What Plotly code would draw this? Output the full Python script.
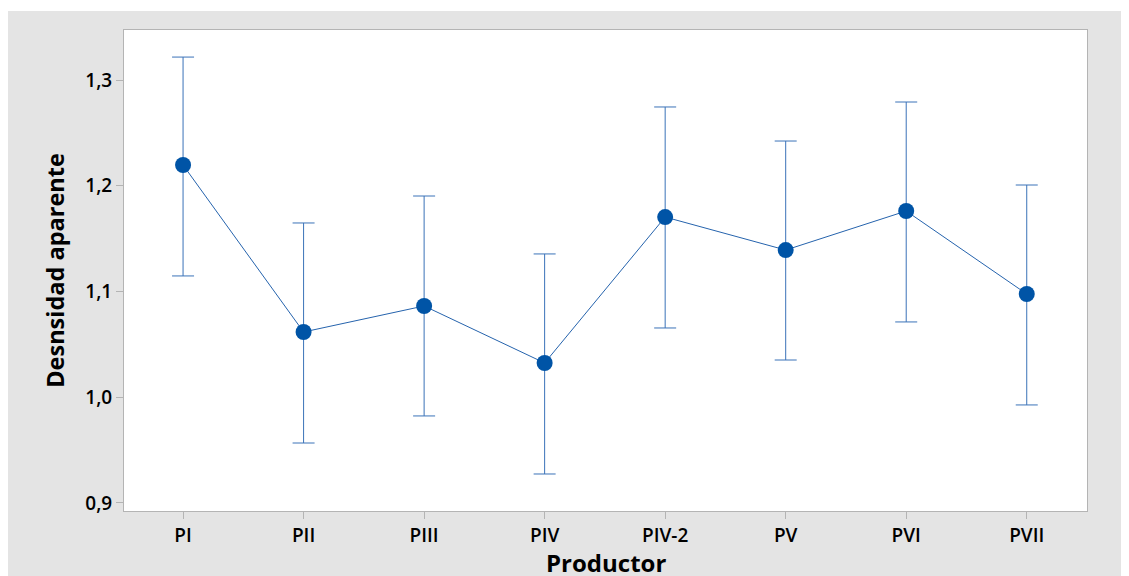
import plotly.graph_objects as go

categories = ["PI", "PII", "PIII", "PIV", "PIV-2", "PV", "PVI", "PVII"]
means = [1.2196, 1.0617, 1.0863, 1.0324, 1.1704, 1.1392, 1.1761, 1.0976]
upper = [1.3217, 1.1648, 1.1903, 1.1355, 1.2745, 1.2423, 1.2792, 1.2007]
lower = [1.1147, 0.9567, 0.9823, 0.9274, 1.0655, 1.0352, 1.0712, 0.9927]
yticks = [0.9, 1.0, 1.1, 1.2, 1.3]

err_plus = [u - m for u, m in zip(upper, means)]
err_minus = [m - l for m, l in zip(means, lower)]

# page body adds an 8px margin; figure spans screen 8..1129 x 8..576
W, H = 1121, 568
L, R, T, B = 116, 42, 22, 65
pw, ph = W - L - R, H - T - B

fig = go.Figure()
fig.add_trace(go.Scatter(
    x=categories, y=means, mode="lines+markers",
    line=dict(color="#2563ad", width=1),
    marker=dict(color="#0054a6", size=16),
    error_y=dict(type="data", symmetric=False, array=err_plus, arrayminus=err_minus,
                 color="#3a72b8", thickness=1, width=11),
    showlegend=False,
))

# gray background frame, then white plot area on top
fig.add_shape(type="rect", xref="paper", yref="paper", layer="below",
              x0=-L / pw, x1=(W + 5 - L) / pw,
              y0=-(B + 5) / ph, y1=1 + (T - 3) / ph,
              fillcolor="#e4e4e4", line=dict(width=0))
fig.add_shape(type="rect", xref="paper", yref="paper", layer="below",
              x0=0, x1=1, y0=0, y1=1, fillcolor="white", line=dict(width=0))

# x-axis title placed near the bottom edge as in the original
fig.add_annotation(text="<b>Productor</b>", xref="paper", yref="paper",
                   x=0.5, y=-51 / ph, xanchor="center", yanchor="middle",
                   showarrow=False, font=dict(size=24, color="black"))

fig.update_layout(
    width=W, height=H,
    margin=dict(l=L, r=R, t=T, b=B, pad=0),
    paper_bgcolor="white", plot_bgcolor="white",
    separators=",.",
    font=dict(family="Open Sans, Segoe UI, DejaVu Sans", color="black", size=19),
    xaxis=dict(
        range=[-0.49, 7.5], showgrid=False, zeroline=False, automargin=False,
        showline=True, linecolor="#b4b4b4", linewidth=1, mirror=True,
        ticks="outside", ticklen=7, tickcolor="#b4b4b4", tickwidth=1,
        tickfont=dict(size=19, weight=600),
    ),
    yaxis=dict(
        range=[0.8924, 1.3473], showgrid=False, zeroline=False, automargin=False,
        tickvals=yticks, tickformat=".1f",
        showline=True, linecolor="#b4b4b4", linewidth=1, mirror=True,
        ticks="outside", ticklen=7, tickcolor="#b4b4b4", tickwidth=1,
        tickfont=dict(size=19, weight=600),
        title=dict(text="<b>Desnsidad aparente</b>", font=dict(size=23.5), standoff=14),
    ),
)

fig.write_html("out.html")
